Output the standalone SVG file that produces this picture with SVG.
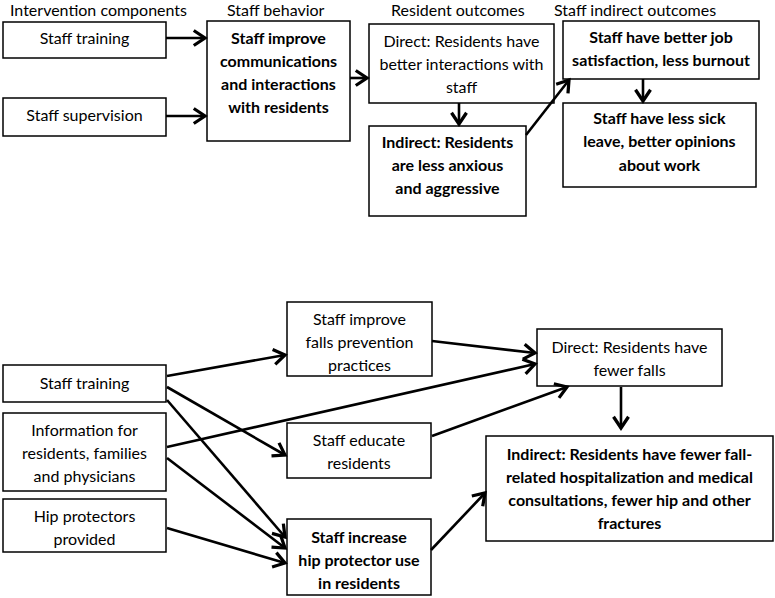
<svg xmlns="http://www.w3.org/2000/svg" width="775" height="598" viewBox="0 0 775 598">
<defs>
<marker id="ah" markerUnits="userSpaceOnUse" markerWidth="20" markerHeight="20" viewBox="-12 -8 14 16" refX="0" refY="0" orient="auto">
<path d="M-9,-6 L0,0 L-9,6" fill="none" stroke="#000" stroke-width="2.6" stroke-linejoin="miter"/>
</marker>
</defs>
<style>
text{font-family:Lato,"Liberation Sans",sans-serif;font-size:16px;fill:#000}
.c{text-anchor:middle}
.b{font-weight:bold}
rect{fill:#fff;stroke:#000;stroke-width:1.5}
#connectors line{stroke:#000;stroke-width:2.6;marker-end:url(#ah)}
</style>
<rect x="0" y="0" width="775" height="598" style="stroke:none"/>
<g id="headers">
<text x="10" y="16">Intervention components</text>
<text x="227" y="16">Staff behavior</text>
<text x="391" y="16">Resident outcomes</text>
<text x="554" y="16">Staff indirect outcomes</text>
</g>
<g id="t-training"><rect x="3" y="22" width="163" height="36"/><text class="c" x="84.5" y="43.5">Staff training</text></g>
<g id="t-supervision"><rect x="3" y="98" width="163" height="38"/><text class="c" x="84.5" y="121">Staff supervision</text></g>
<g id="t-improve"><rect x="207" y="21" width="143" height="120"/>
<text class="c b" x="278.5" y="43.5">Staff improve</text>
<text class="c b" x="278.5" y="66.5">communications</text>
<text class="c b" x="278.5" y="89.5">and interactions</text>
<text class="c b" x="278.5" y="112.5">with residents</text></g>
<g id="t-direct"><rect x="369" y="24" width="185" height="79"/>
<text class="c" x="461.5" y="46.5">Direct: Residents have</text>
<text class="c" x="461.5" y="69.5">better interactions with</text>
<text class="c" x="461.5" y="92.5">staff</text></g>
<g id="t-indirect"><rect x="369" y="126" width="157" height="90"/>
<text class="c b" x="447.5" y="148">Indirect: Residents</text>
<text class="c b" x="447.5" y="171">are less anxious</text>
<text class="c b" x="447.5" y="194">and aggressive</text></g>
<g id="t-job"><rect x="563" y="21" width="196" height="58"/>
<text class="c b" x="661" y="42.5">Staff have better job</text>
<text class="c b" x="661" y="65.5">satisfaction, less burnout</text></g>
<g id="t-sick"><rect x="563" y="103" width="193" height="84"/>
<text class="c b" x="659.5" y="124">Staff have less sick</text>
<text class="c b" x="659.5" y="147">leave, better opinions</text>
<text class="c b" x="659.5" y="170.5">about work</text></g>

<g id="b-training"><rect x="3" y="365" width="163" height="37"/><text class="c" x="84.5" y="388.5">Staff training</text></g>
<g id="b-info"><rect x="3" y="413" width="163" height="78"/>
<text class="c" x="84.5" y="436">Information for</text>
<text class="c" x="84.5" y="459">residents, families</text>
<text class="c" x="84.5" y="482">and physicians</text></g>
<g id="b-hip"><rect x="3" y="499" width="163" height="53"/>
<text class="c" x="84.5" y="521.5">Hip protectors</text>
<text class="c" x="84.5" y="544.5">provided</text></g>
<g id="b-falls"><rect x="287" y="302" width="145" height="74"/>
<text class="c" x="359.5" y="324.5">Staff improve</text>
<text class="c" x="359.5" y="347.5">falls prevention</text>
<text class="c" x="359.5" y="370.5">practices</text></g>
<g id="b-educate"><rect x="287" y="423" width="144" height="55"/>
<text class="c" x="359" y="445.5">Staff educate</text>
<text class="c" x="359" y="469">residents</text></g>
<g id="b-increase"><rect x="287" y="519" width="144" height="76"/>
<text class="c b" x="359" y="542.5">Staff increase</text>
<text class="c b" x="359" y="565.5">hip protector use</text>
<text class="c b" x="359" y="588.5">in residents</text></g>
<g id="b-direct"><rect x="537" y="329" width="185" height="57"/>
<text class="c" x="629.5" y="352.5">Direct: Residents have</text>
<text class="c" x="629.5" y="375.5">fewer falls</text></g>
<g id="b-indirect"><rect x="486" y="436" width="287" height="105"/>
<text class="c b" x="629.5" y="459.5">Indirect: Residents have fewer fall-</text>
<text class="c b" x="629.5" y="482.5">related hospitalization and medical</text>
<text class="c b" x="629.5" y="506">consultations, fewer hip and other</text>
<text class="c b" x="629.5" y="528.5">fractures</text></g>

<g id="connectors">
<line x1="166" y1="38" x2="205" y2="38"/>
<line x1="166" y1="116" x2="205" y2="116"/>
<line x1="350" y1="78" x2="367" y2="78"/>
<line x1="459" y1="103" x2="459" y2="124"/>
<line x1="526" y1="135" x2="569" y2="80"/>
<line x1="643" y1="79" x2="643" y2="101"/>
<line x1="167" y1="376" x2="285" y2="355"/>
<line x1="432" y1="341" x2="535" y2="353"/>
<line x1="167" y1="447" x2="535" y2="364"/>
<line x1="432" y1="436" x2="567" y2="387"/>
<line x1="167" y1="387" x2="285" y2="455"/>
<line x1="167" y1="400" x2="285" y2="537"/>
<line x1="167" y1="458" x2="285" y2="548"/>
<line x1="167" y1="528" x2="285" y2="563"/>
<line x1="621" y1="387" x2="621" y2="428"/>
<line x1="431" y1="550" x2="485" y2="493"/>
</g>
</svg>
